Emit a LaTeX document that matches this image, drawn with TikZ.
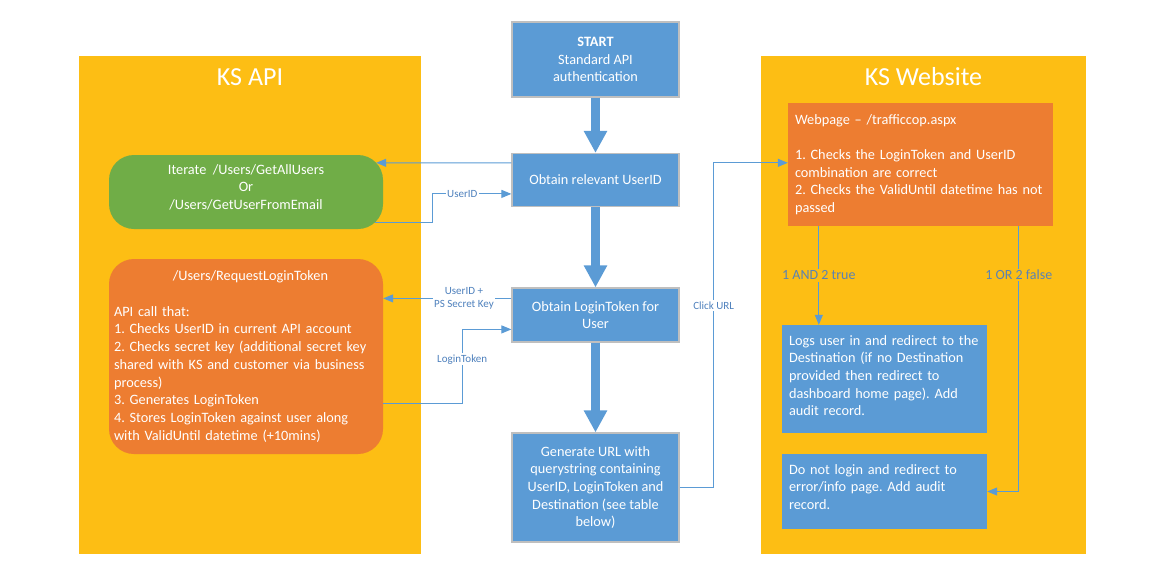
\documentclass[tikz,border=0pt]{standalone}
\usepackage{fontspec}
\setmainfont{Carlito}
\usepackage{tikz}
\usetikzlibrary{calc}
\usetikzlibrary{arrows.meta}
\frenchspacing

\definecolor{panel}{HTML}{FDBE14}
\definecolor{azul}{HTML}{5B9BD5}
\definecolor{naranja}{HTML}{ED7D31}
\definecolor{verde}{HTML}{70AD47}
\definecolor{textoflecha}{HTML}{4F81BD}
\definecolor{textosalida}{HTML}{5A82B4}

\begin{document}
\begin{tikzpicture}[x=1pt,y=-1pt]
\tikzset{every node/.style={font=\fontsize{14.3}{17.7}\selectfont,text=white,inner sep=0pt}}
\tikzset{paso/.style={draw=gray!50,line width=1.2pt,fill=azul,minimum width=167pt,align=center}}
\tikzset{etiq/.style={font=\fontsize{11}{13}\selectfont,text=textoflecha,fill=white,inner sep=1.5pt,align=center}}
\tikzset{salida/.style={font=\fontsize{14}{16}\selectfont,text=textosalida,fill=panel,inner sep=1.5pt}}
\tikzset{flecha/.style={draw=azul,line width=1.1pt,-{Triangle[width=8pt,length=10pt]}}}
\tikzset{gruesa/.style={draw=azul,line width=9pt,-{Triangle[width=22pt,length=22pt]}}}
\useasboundingbox (0,0) rectangle (1162,568);

% Paneles
\node (api) at (250,305) [fill=panel,minimum width=342pt,minimum height=498pt] {};
\node (web) at (923.5,305) [fill=panel,minimum width=325pt,minimum height=498pt] {};
\node (apit) at (250,77) [font=\fontsize{26}{30}\selectfont] {KS API};
\node (webt) at (923.5,77) [font=\fontsize{26}{30}\selectfont] {KS Website};

% Pasos centrales
\node (1) at (595.5,59.5) [paso,minimum height=75pt] {\textbf{START}\\Standard API\\authentication};
\node (2) at (595.5,180) [paso,minimum height=53pt] {Obtain relevant UserID};
\node (3) at (595.5,315) [paso,minimum height=54pt] {Obtain LoginToken for\\User};
\node (4) at (595.5,487.5) [paso,minimum height=109pt] {Generate URL with\\querystring containing\\UserID, LoginToken and\\Destination (see table\\below)};

% Llamadas a la API
\node (5) at (246,192) [fill=verde,rounded corners=25pt,minimum width=274pt,minimum height=74pt,align=center] {Iterate~ /Users/GetAllUsers\\Or\\/Users/GetUserFromEmail\\[-7.7pt]~};
\node (6) at (246,356.5) [fill=naranja,rounded corners=25pt,minimum height=195pt,text width=264pt,inner xsep=5pt,align=left] {\makebox[264pt]{\hspace*{9pt}/Users/RequestLoginToken}\\~\\API call that:\\1. Checks UserID in current API account\\2. Checks secret key (additional secret key\\shared with KS and customer via business\\process)\\3. Generates LoginToken\\4. Stores LoginToken against user along\\with ValidUntil datetime (+10mins)};

% Sitio web
\node (7) at (920.5,164.5) [fill=naranja,minimum height=123pt,text width=251pt,inner xsep=7pt,align=left] {Webpage – /trafficcop.aspx\\~\\1. Checks the LoginToken and UserID\\combination are correct\\2. Checks the ValidUntil datetime has not\\passed};
\node (8) at (884.5,379) [fill=azul,minimum height=108pt,text width=191pt,inner xsep=7pt,align=left] {Logs user in and redirect to the\\Destination (if no Destination\\provided then redirect to\\dashboard home page). Add\\audit record.\\[-10.7pt]~};
\node (9) at (884.5,491.5) [fill=azul,minimum height=75pt,text width=191pt,inner xsep=7pt,align=left] {Do not login and redirect to\\error/info page. Add audit\\record.\\[-8.7pt]~};

% Puntos de las flechas
\coordinate (a) at ($(3.north west)+(0,11)$);
\coordinate (c1) at ($(7.south west)+(31,0)$);
\coordinate (c2) at ($(7.south west)+(231,0)$);

\path
(1) edge [gruesa] (2)
(2) edge [gruesa] (3)
(3) edge [gruesa] (4);

\draw [flecha] ($(2.north west)+(0,10)$) -- ($(5.north east)+(-7,8)$);
\draw [flecha] ($(5.south east)+(-8,-7)$) -- ++(57,0) |- node[etiq,pos=0.69] {UserID} ($(2.north west)+(0,41)$);
\draw [flecha] (a) -- node[etiq,pos=0.37] {UserID +\\PS Secret Key} (a -| 6.east);
\draw [flecha] ($(6.north east)+(0,145)$) -- ++(79,0) |- node[etiq,pos=0.3] {LoginToken} ($(3.north west)+(0,42)$);
\draw [flecha] (4.east) -- ++(34,0) |- node[etiq,pos=0.28] {Click URL} ($(7.north west)+(0,60)$);
\draw [flecha] (c1) -- node[salida] {1 AND 2 true} (c1 |- 8.north);
\draw [flecha] (c2) |- node[salida,pos=0.092] {1 OR 2 false} (9.east);

\end{tikzpicture}
\end{document}
